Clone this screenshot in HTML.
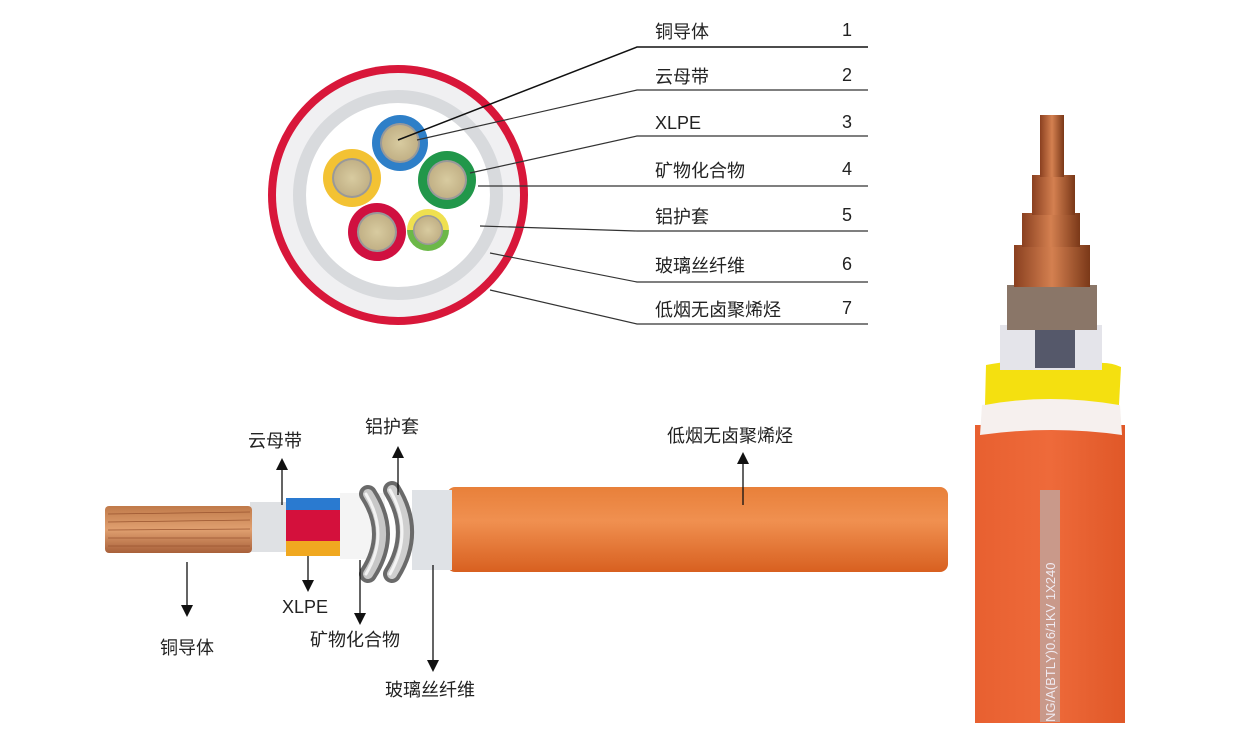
<!DOCTYPE html>
<html><head><meta charset="utf-8"><style>
body{margin:0;background:#fff;}
svg text{font-family:"Liberation Sans","Noto Sans CJK SC",sans-serif;fill:#222;}
</style></head><body>
<svg width="1235" height="735" viewBox="0 0 1235 735" xmlns="http://www.w3.org/2000/svg">
<defs>
<radialGradient id="cu" cx="50%" cy="50%" r="50%"><stop offset="0" stop-color="#d8cba0"/><stop offset="1" stop-color="#c2b186"/></radialGradient>
<linearGradient id="cop" x1="0" y1="0" x2="0" y2="1"><stop offset="0" stop-color="#c07a4a"/><stop offset=".5" stop-color="#e0a070"/><stop offset="1" stop-color="#a8603a"/></linearGradient>
<linearGradient id="orv" x1="0" y1="0" x2="0" y2="1"><stop offset="0" stop-color="#e8803a"/><stop offset=".4" stop-color="#f09050"/><stop offset="1" stop-color="#d86020"/></linearGradient>
<linearGradient id="orh" x1="0" y1="0" x2="1" y2="0"><stop offset="0" stop-color="#e86030"/><stop offset=".5" stop-color="#ee6a3a"/><stop offset="1" stop-color="#e05828"/></linearGradient>
<linearGradient id="cr" x1="0" y1="0" x2="1" y2="0"><stop offset="0" stop-color="#8a4020"/><stop offset=".5" stop-color="#d48050"/><stop offset="1" stop-color="#7a3818"/></linearGradient>
</defs>
<circle cx="398" cy="195" r="130" fill="#d8173a"/>
<circle cx="398" cy="195" r="122" fill="#f0f0f2"/>
<circle cx="398" cy="195" r="105" fill="#d8dadd"/>
<circle cx="398" cy="195" r="92" fill="#fff"/>
<circle cx="400" cy="143" r="28" fill="#2e7fc8"/><circle cx="400" cy="143" r="20" fill="#999"/><circle cx="400" cy="143" r="18" fill="url(#cu)"/>
<circle cx="352" cy="178" r="29" fill="#f3c233"/><circle cx="352" cy="178" r="20" fill="#999"/><circle cx="352" cy="178" r="18" fill="url(#cu)"/>
<circle cx="447" cy="180" r="29" fill="#21974a"/><circle cx="447" cy="180" r="20" fill="#999"/><circle cx="447" cy="180" r="18" fill="url(#cu)"/>
<circle cx="377" cy="232" r="29" fill="#d01040"/><circle cx="377" cy="232" r="20" fill="#999"/><circle cx="377" cy="232" r="18" fill="url(#cu)"/>
<path d="M407 230 A21 21 0 0 1 449 230 Z" fill="#efe050"/><path d="M407 230 A21 21 0 0 0 449 230 Z" fill="#6cb848"/>
<circle cx="428" cy="230" r="15" fill="#999"/><circle cx="428" cy="230" r="13.5" fill="url(#cu)"/>
<g stroke="#333" stroke-width="1.2" fill="none">
<polyline points="398,140 637,47 868,47" stroke="#111" stroke-width="1.5"/>
<polyline points="417,140 637,90 868,90"/>
<polyline points="470,173 637,136 868,136"/>
<polyline points="478,186 868,186"/>
<polyline points="480,226 637,231 868,231"/>
<polyline points="490,253 637,282 868,282"/>
<polyline points="490,290 637,324 868,324"/>
</g>
<g font-size="18">
<text x="655" y="38">铜导体</text><text x="842" y="36">1</text>
<text x="655" y="83">云母带</text><text x="842" y="81">2</text>
<text x="655" y="129">XLPE</text><text x="842" y="128">3</text>
<text x="655" y="177">矿物化合物</text><text x="842" y="175">4</text>
<text x="655" y="223">铝护套</text><text x="842" y="221">5</text>
<text x="655" y="272">玻璃丝纤维</text><text x="842" y="270">6</text>
<text x="655" y="316">低烟无卤聚烯烃</text><text x="842" y="314">7</text>
</g>
<rect x="447" y="487" width="501" height="85" rx="8" fill="url(#orv)"/>
<rect x="412" y="490" width="40" height="80" fill="#dfe2e6"/>
<rect x="340" y="493" width="45" height="66" fill="#f4f4f4"/>
<g fill="none" stroke-linecap="round">
<path d="M368 494 q26 40 0 80" stroke="#6a6a6a" stroke-width="18"/>
<path d="M368 494 q26 40 0 80" stroke="#c8c8c8" stroke-width="10"/>
<path d="M366 494 q24 40 0 80" stroke="#f2f2f2" stroke-width="3"/>
<path d="M392 490 q26 42 0 84" stroke="#6a6a6a" stroke-width="18"/>
<path d="M392 490 q26 42 0 84" stroke="#cfcfcf" stroke-width="10"/>
<path d="M390 490 q24 42 0 84" stroke="#f4f4f4" stroke-width="3"/>
</g>
<rect x="250" y="502" width="38" height="50" fill="#dfe1e4"/>
<rect x="286" y="498" width="54" height="12" fill="#2a7ad0"/>
<rect x="286" y="510" width="54" height="31" fill="#d4103c"/>
<rect x="286" y="541" width="54" height="15" fill="#f0a820"/>
<rect x="105" y="506" width="147" height="47" rx="4" fill="url(#cop)"/>
<g stroke="#9a5530" stroke-width=".8"><line x1="108" y1="514" x2="250" y2="512"/><line x1="108" y1="522" x2="250" y2="520"/><line x1="108" y1="530" x2="250" y2="529"/><line x1="108" y1="538" x2="250" y2="538"/><line x1="108" y1="546" x2="250" y2="546"/></g>
<g stroke="#111" stroke-width="1.3">
<line x1="282" y1="505" x2="282" y2="468"/><line x1="398" y1="495" x2="398" y2="456"/><line x1="743" y1="505" x2="743" y2="462"/>
<line x1="308" y1="556" x2="308" y2="582"/><line x1="187" y1="562" x2="187" y2="607"/><line x1="360" y1="560" x2="360" y2="615"/><line x1="433" y1="565" x2="433" y2="662"/>
</g>
<g fill="#111">
<path d="M276 470 h12 l-6 -12z"/><path d="M392 458 h12 l-6 -12z"/><path d="M737 464 h12 l-6 -12z"/>
<path d="M302 580 h12 l-6 12z"/><path d="M181 605 h12 l-6 12z"/><path d="M354 613 h12 l-6 12z"/><path d="M427 660 h12 l-6 12z"/>
</g>
<g font-size="18">
<text x="248" y="447">云母带</text><text x="365" y="433">铝护套</text><text x="667" y="442">低烟无卤聚烯烃</text>
<text x="282" y="613">XLPE</text><text x="160" y="654">铜导体</text><text x="310" y="646">矿物化合物</text><text x="385" y="696">玻璃丝纤维</text>
</g>
<rect x="975" y="425" width="150" height="298" fill="url(#orh)"/>
<path d="M982 405 q70 -12 138 0 l2 30 q-70 -10 -142 0z" fill="#f6f0ee"/>
<path d="M986 365 q30 -6 40 0 q40 -6 60 0 q20 -5 35 2 l-2 38 q-70 -12 -134 0z" fill="#f4e010"/>
<rect x="1000" y="325" width="102" height="45" fill="#e4e4ea"/>
<rect x="1035" y="328" width="40" height="40" fill="#55586a"/>
<rect x="1007" y="285" width="90" height="45" fill="#8a7668"/>
<rect x="1014" y="245" width="76" height="42" fill="url(#cr)"/>
<rect x="1022" y="213" width="58" height="34" fill="url(#cr)"/>
<rect x="1032" y="175" width="43" height="40" fill="url(#cr)"/>
<rect x="1040" y="115" width="24" height="62" fill="url(#cr)"/>
<rect x="1040" y="490" width="20" height="232" fill="#c9998a"/>
<text transform="translate(1055,722) rotate(-90)" font-size="13" style="fill:#f0eaf0">NG/A(BTLY)0.6/1KV 1X240</text>
</svg>
</body></html>
